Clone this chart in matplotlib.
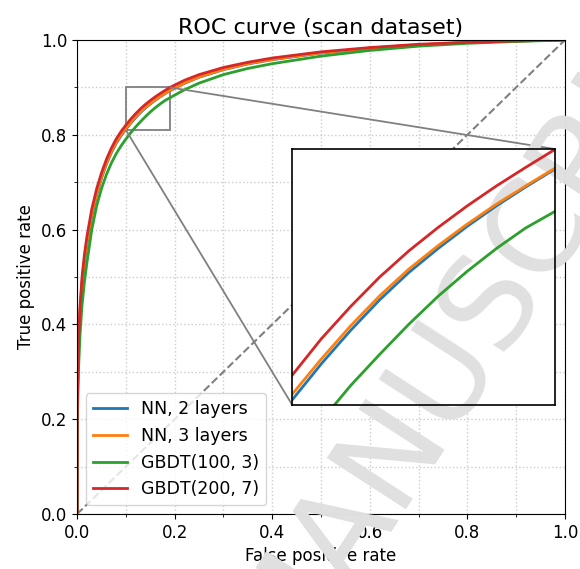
import matplotlib
matplotlib.use("Agg")
import matplotlib.pyplot as plt
from matplotlib.transforms import Bbox, TransformedBbox
from mpl_toolkits.axes_grid1.inset_locator import mark_inset

# false positive rates shared by all curves
fpr = [0, 0.0003, 0.001, 0.003, 0.006, 0.01, 0.015, 0.02, 0.03, 0.04, 0.05,
       0.06, 0.07, 0.08, 0.09, 0.10, 0.11, 0.12, 0.13, 0.14, 0.15, 0.16,
       0.17, 0.18, 0.19, 0.22, 0.25, 0.30, 0.35, 0.40, 0.50, 0.60, 0.70,
       0.80, 0.90, 1.0]

tpr_nn2 = [0, 0.175, 0.263, 0.353, 0.423, 0.482, 0.530, 0.568, 0.628, 0.673,
           0.709, 0.738, 0.762, 0.782, 0.798, 0.8118, 0.8245, 0.8362, 0.8470,
           0.8566, 0.8650, 0.8728, 0.8800, 0.8866, 0.8929, 0.9085, 0.9215,
           0.9375, 0.9495, 0.9585, 0.9725, 0.9825, 0.9895, 0.9948, 0.998, 1.0]
tpr_nn3 = [0, 0.18, 0.27, 0.36, 0.43, 0.488, 0.536, 0.573, 0.632, 0.676,
           0.711, 0.740, 0.764, 0.784, 0.800, 0.8138, 0.8262, 0.8378, 0.8484,
           0.8578, 0.8660, 0.8736, 0.8806, 0.8870, 0.8932, 0.909, 0.922,
           0.938, 0.950, 0.959, 0.973, 0.983, 0.990, 0.995, 0.998, 1.0]
tpr_gbdt_small = [0, 0.15, 0.23, 0.31, 0.38, 0.44, 0.49, 0.53, 0.60, 0.650,
                  0.687, 0.716, 0.740, 0.760, 0.7765, 0.791, 0.8045, 0.8168,
                  0.8278, 0.8384, 0.8482, 0.8570, 0.8650, 0.8722, 0.8780,
                  0.895, 0.909, 0.927, 0.940, 0.950, 0.966, 0.978, 0.987,
                  0.993, 0.997, 1.0]
tpr_gbdt_big = [0, 0.19, 0.28, 0.37, 0.44, 0.50, 0.548, 0.585, 0.643, 0.686,
                0.720, 0.748, 0.7715, 0.791, 0.807, 0.8205, 0.8333, 0.8446,
                0.8550, 0.8642, 0.8724, 0.8800, 0.8870, 0.8935, 0.8998,
                0.915, 0.927, 0.942, 0.953, 0.962, 0.975, 0.984, 0.991,
                0.995, 0.998, 1.0]

labels = ["NN, 2 layers", "NN, 3 layers", "GBDT(100, 3)", "GBDT(200, 7)"]
curves = [tpr_nn2, tpr_nn3, tpr_gbdt_small, tpr_gbdt_big]
colors = ["tab:blue", "tab:orange", "tab:green", "tab:red"]

zoom_x = (0.10, 0.19)
zoom_y = (0.81, 0.90)

plt.rcParams["font.size"] = 12

fig = plt.figure(figsize=(5.8, 5.69), dpi=100, facecolor="white")
ax = fig.add_axes([0.133, 0.0967, 0.841, 0.833])
ax.set_facecolor("none")

ax.plot([0, 1], [0, 1], "--", color="0.5", lw=1.5)
for tpr, lab, col in zip(curves, labels, colors):
    ax.plot(fpr, tpr, color=col, lw=2, label=lab)

ax.set_xlim(0, 1)
ax.set_ylim(0, 1)
ax.set_xticks([0, 0.2, 0.4, 0.6, 0.8, 1.0])
ax.set_yticks([0, 0.2, 0.4, 0.6, 0.8, 1.0])
ax.set_xticks([0.1, 0.3, 0.5, 0.7, 0.9], minor=True)
ax.set_yticks([0.1, 0.3, 0.5, 0.7, 0.9], minor=True)
ax.grid(True, which="both", linestyle=":", color="0.8", lw=1)
ax.set_axisbelow(True)
ax.set_xlabel("False positive rate")
ax.set_ylabel("True positive rate")
ax.set_title("ROC curve (scan dataset)", fontsize=16, pad=4)
ax.legend(loc="lower left", fontsize=12.5)

# zoomed inset
axins = ax.inset_axes([0.441, 0.23, 0.538, 0.54])
for tpr, col in zip(curves, colors):
    axins.plot(fpr, tpr, color=col, lw=2)
axins.set_xlim(*zoom_x)
axins.set_ylim(*zoom_y)
axins.set_xticks([])
axins.set_yticks([])
for s in axins.spines.values():
    s.set_color("black")
    s.set_linewidth(1.2)
mark_inset(ax, axins, loc1=1, loc2=3, fc="none", ec="0.5", lw=1.3)

# watermark, layered so it sits behind the data but over the outer text
wm = dict(rotation=57, fontsize=92, color="#e0e0e0", ha="center",
          va="center", rotation_mode="anchor", transform=fig.transFigure)
wm_pos = (0.836, 0.468)
fig.text(*wm_pos, "MANUSCRIPT", zorder=-1, **wm)
t_in = axins.text(*wm_pos, "MANUSCRIPT", zorder=1, **wm)
t_in.set_clip_path(axins.patch)
t_top = fig.text(*wm_pos, "MANUSCRIPT", zorder=10, **wm)
t_top.set_clip_box(TransformedBbox(Bbox([[0, 0], [1, 0.086]]), fig.transFigure))

fig.savefig("out.png", dpi=100, facecolor="white")
